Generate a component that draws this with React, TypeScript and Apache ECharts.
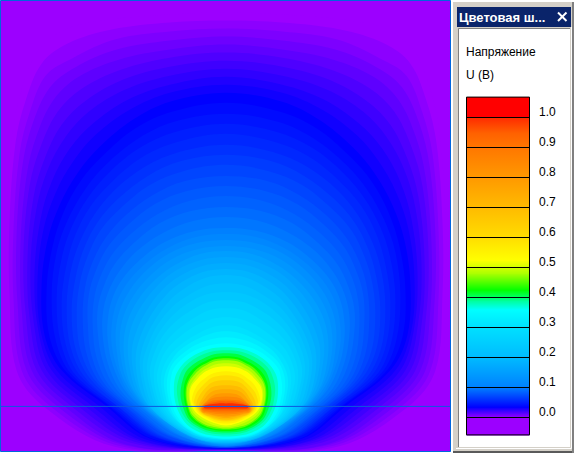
import React, { useEffect, useRef } from "react";
import * as echarts from "echarts";

const WINDOW_TITLE = "Цветовая ш...";
const LEGEND_TITLE = "Напряжение";
const LEGEND_UNIT = "U (В)";

// colour scale: value -> colour
const stopValues = [-0.058, 0, 0.035, 0.1, 0.2, 0.3, 0.36, 0.39, 0.425, 0.48, 0.525, 0.6, 0.7, 0.8, 0.9, 0.95, 1.0, 1.0001, 1.068];
const stopColors = ["#9c00ff", "#9c00ff", "#0000ff", "#0080ff", "#00bbff", "#00e0ff", "#00ffff", "#00ff99", "#00ff00", "#aaff00", "#ffff00", "#ffdd00", "#ffbb00", "#ff9900", "#ff7700", "#ff6000", "#ff2a00", "#ff0000", "#ff0000"];

// iso-voltage levels of the field
const levels = [0, 0.0035, 0.007, 0.0105, 0.014, 0.0175, 0.021, 0.0245, 0.028, 0.0315, 0.035, 0.04, 0.045, 0.05, 0.055, 0.06, 0.065, 0.07, 0.075, 0.08, 0.085, 0.09, 0.095, 0.1, 0.1125, 0.125, 0.1375, 0.15, 0.1625, 0.175, 0.1875, 0.2, 0.2167, 0.2333, 0.25, 0.2667, 0.2833, 0.3, 0.32, 0.34, 0.36, 0.375, 0.39, 0.41, 0.425, 0.455, 0.48, 0.5, 0.525, 0.56, 0.6, 0.65, 0.7, 0.75, 0.8, 0.85, 0.9, 0.95, 1.0];

// left half of each iso-line, from top centre round to bottom centre (mirrored about x = 226)
const isoLines: number[][][] = [
  [[226,13],[170,15],[110,20],[65,30],[38,52],[22,90],[13,133],[7,215],[7,290],[12,370],[37,406],[110,447],[226,450]],
  [[226,21],[170,23],[112,30],[68,44],[42,64],[26,101],[16,143],[10,222],[10,294],[17,370],[44,406],[114,446],[226,450]],
  [[226,29],[170,32],[115,40],[72,59],[46,76],[30,113],[20,154],[14,229],[14,299],[22,370],[51,406],[118,445],[226,450]],
  [[226,37],[170,41],[117,50],[75,68],[50,88],[33,124],[23,165],[17,236],[18,303],[27,370],[58,406],[122,444],[226,449.5]],
  [[226,45],[170,50],[119,60],[79,77],[54,100],[37,136],[27,176],[21,243],[22,308],[32,370],[65,406],[126,444],[226,449]],
  [[226,53],[170,58],[121,70],[82,89],[58,112],[41,147],[30,186],[24,250],[26,312],[37,370],[72,406],[130,442],[226,449]],
  [[226,61],[170,67],[123,80],[86,101],[62,125],[45,159],[34,197],[28,257],[30,317],[42,370],[79,406],[134,441],[226,449]],
  [[226,69],[170,76],[125,90],[89,112],[66,137],[48,170],[37,208],[31,264],[34,321],[47,370],[86,406],[138,440],[226,449]],
  [[226,77],[170,85],[128,100],[93,124],[70,149],[52,182],[41,219],[35,271],[38,326],[52,370],[93,406],[142,440],[226,448.5]],
  [[226,85],[170,93],[130,110],[96,135],[74,161],[56,193],[44,229],[38,278],[41,330],[57,370],[100,406],[146,439],[226,448]],
  [[226,93],[170,102],[133,120],[100,147],[78,173],[60,205],[48,240],[42,285],[45,335],[62,370],[107,406],[150,438],[226,448]],
  [[226,103],[172,112],[135,129],[103,156],[81,181],[64,212],[53,246],[47,289],[50,337],[67,372],[110,406],[152,438],[226,448]],
  [[226,114],[174,122],[138,139],[106,165],[85,190],[68,220],[57,252],[52,294],[56,340],[71,373],[113,407],[155,437],[226,447.5]],
  [[226,124],[176,132],[140,148],[109,173],[88,198],[72,227],[62,258],[57,298],[61,342],[76,375],[116,407],[157,437],[226,447.5]],
  [[226,134],[178,142],[143,157],[112,182],[91,206],[76,234],[67,264],[62,302],[66,344],[81,376],[119,407],[159,437],[226,447]],
  [[226,145],[180,152],[145,167],[115,190],[95,214],[80,242],[71,271],[67,306],[71,347],[86,378],[121,408],[162,437],[226,447]],
  [[226,155],[182,161],[148,176],[118,199],[98,222],[84,249],[76,277],[72,310],[76,349],[91,379],[124,408],[164,437],[226,447]],
  [[226,165],[184,171],[150,185],[121,208],[101,230],[88,256],[80,283],[77,314],[81,351],[96,381],[127,408],[166,437],[226,447]],
  [[226,176],[185,181],[153,195],[125,216],[105,239],[92,264],[85,289],[83,319],[87,354],[100,382],[130,409],[169,436],[226,447]],
  [[226,186],[187,191],[155,204],[128,225],[108,247],[96,271],[89,295],[88,323],[92,356],[105,384],[133,409],[171,436],[226,446.5]],
  [[226,196],[189,201],[158,214],[131,234],[112,255],[100,278],[94,301],[93,327],[97,358],[110,386],[136,410],[173,436],[226,446]],
  [[226,207],[191,211],[160,223],[134,243],[115,264],[104,286],[98,308],[98,332],[103,361],[115,387],[139,410],[175,436],[226,446]],
  [[226,217],[193,221],[163,233],[137,251],[119,272],[108,293],[103,314],[103,336],[108,363],[120,389],[142,410],[178,435],[226,446]],
  [[226,228],[195,231],[165,242],[140,260],[122,280],[112,300],[108,320],[108,340],[113,365],[125,390],[145,410],[180,435],[226,446]],
  [[226,234],[196,237],[168,248],[144,265],[126,285],[116,305],[112,325],[112,345],[118,370],[130,394],[150,413],[183,436],[226,445.5]],
  [[226,240],[197,243],[170,253],[147,270],[130,290],[120,310],[116,330],[117,351],[122,375],[135,397],[155,416],[186,436],[226,445]],
  [[226,246],[198,249],[172,259],[151,275],[134,295],[124,315],[120,335],[121,357],[127,380],[140,401],[160,419],[189,436],[226,444.5]],
  [[226,251],[200,254],[175,265],[155,280],[138,300],[128,320],[124,340],[125,362],[131,385],[145,405],[165,421],[192,437],[226,444]],
  [[226,257],[201,260],[177,270],[158,285],[142,305],[132,325],[128,345],[130,368],[136,390],[150,409],[170,424],[195,438],[226,443.5]],
  [[226,263],[202,266],[180,276],[162,290],[147,310],[137,330],[132,350],[134,374],[141,395],[155,412],[175,427],[199,439],[226,443]],
  [[226,269],[203,272],[182,282],[166,295],[151,315],[141,335],[136,355],[138,380],[145,400],[160,416],[180,430],[202,440],[226,442.5]],
  [[226,275],[205,278],[185,288],[170,300],[155,320],[145,340],[140,360],[143,385],[150,405],[165,420],[185,433],[205,440],[226,442]],
  [[226,283],[206,286],[187,296],[172,307],[157,326],[148,345],[143,363],[146,387],[153,406],[167,420],[187,433],[206,440],[226,441.5]],
  [[226,292],[207,294],[188,303],[173,315],[160,331],[151,349],[147,367],[150,388],[156,406],[169,421],[188,433],[206,440],[226,441]],
  [[226,300],[208,302],[190,311],[175,322],[162,337],[154,354],[150,370],[153,390],[159,407],[171,421],[190,433],[207,439],[226,440.5]],
  [[226,308],[209,310],[192,319],[177,330],[165,343],[157,359],[154,373],[156,392],[162,408],[173,421],[192,433],[208,439],[226,440]],
  [[226,317],[211,319],[193,327],[178,338],[167,349],[160,363],[157,377],[160,393],[165,409],[176,422],[193,434],[209,438],[226,439.5]],
  [[226,325],[212,327],[195,335],[180,345],[170,355],[163,368],[161,380],[163,395],[168,410],[178,422],[195,434],[210,438],[226,439]],
  [[226,331],[212,333],[195,340],[181,349],[173,358],[166,371],[164,383],[166,397],[170,411],[180,423],[197,434],[211,438],[226,439]],
  [[226,337],[211,339],[195,345],[182,354],[173,363],[168,375],[167,387],[169,400],[173,413],[183,425],[198,434],[212,437],[226,438.5]],
  [[226,343],[210,345],[195,350],[183,358],[174,368],[171,378],[170,390],[172,402],[176,414],[186,426],[200,434],[213,437],[226,438]],
  [[226,347],[212,348],[198,353],[187,360],[179,369],[175,378],[174,389],[175,400],[179,412],[187,424],[200,432],[212,435],[226,436]],
  [[226,350],[213,351],[201,355],[191,361],[183,369],[179,378],[177,388],[178,399],[181,410],[188,421],[200,429],[212,433],[226,434]],
  [[226,353],[214,354],[204,358],[195,363],[187,370],[183,379],[181,388],[181,398],[184,409],[189,419],[200,427],[212,431],[226,432]],
  [[226,356],[215,357],[207,360],[198,365],[191,371],[186,379],[184,387],[184,397],[186,407],[190,417],[200,425],[212,429],[226,430.5]],
  [[226,358],[215,359],[208,362],[199,367],[193,373],[188,381],[186,388],[186,398],[188,407],[192,416],[202,424],[213,428],[226,429]],
  [[226,360],[215,361],[208,364],[200,369],[194,375],[189,382],[187,389],[187,398],[189,407],[193,415],[203,423],[214,426.5],[226,428]],
  [[226,363],[216,364],[209,367],[202,371],[196,377],[191,384],[189,390],[189,398],[191,407],[195,414],[205,421],[215,425],[226,426.5]],
  [[226,366],[216,367],[210,369],[203,373],[197,379],[192,385],[190,391],[190,398],[192,406],[197,413],[206,419],[216,423],[226,425]],
  [[226,371],[217,372],[211,374],[205,378],[199,383],[195,389],[193,394],[192,400],[195,407],[199,413],[208,418],[217,422],[226,423]],
  [[226,375],[217,376],[211,378],[206,382],[201,387],[197,392],[195,397],[194,402],[197,408],[201,413],[209,417],[217,420],[226,421]],
  [[226,380],[217.5,380.5],[211.5,382.5],[206.5,386.5],[202.5,391],[199,396],[197,400.5],[196.5,405],[199,409.5],[203,413.5],[210,416.5],[217.5,419],[226,420]],
  [[226,385],[218,385.5],[212,387],[207,391],[204,395],[201,400],[199,404],[199,408],[201,411],[205,414],[211,416],[218,418],[226,419]],
  [[226,389],[218,389.5],[212.5,391],[208,394.5],[205,398],[202,402],[200,405.5],[200,408.5],[202,411.5],[206.5,413.5],[212,415],[218.5,416.5],[226,417.5]],
  [[226,393],[218,393.5],[213,395],[209,398],[206,401],[203,404],[201,407],[201,409],[203,412],[208,413],[213,414.5],[219,415.5],[226,416]],
  [[226,396],[218,396.5],[213,397.5],[209,399.5],[206,402],[203,404.5],[201.5,407],[201.5,408.7],[203.5,411],[208.5,412],[213.5,413],[219.5,413.7],[226,414]],
  [[226,399],[218,399.5],[213,400],[209,401.5],[206,403],[203,405],[202,407],[202,408.5],[204,410],[209,411],[214,411.5],[220,412],[226,412]],
  [[226,401],[218,401],[213,402],[209,403],[207,404],[204,405],[203,406.5],[203,408],[205,409],[210,409.5],[214,410],[220,410],[226,410]],
  [[226,403],[218,403],[213,403.5],[209,404],[207,404.5],[205,405],[204,406],[204,407],[206,408],[210,408],[214,408],[220,408],[226,408]],
];

const probeY = 406;
const probeX = [1, 450];

function colorOf(v: number): string {
  for (let i = 1; i < stopValues.length; i++) {
    if (v <= stopValues[i]) {
      const t = (v - stopValues[i - 1]) / (stopValues[i] - stopValues[i - 1]);
      return echarts.color.lerp(t, [stopColors[i - 1], stopColors[i]]) as string;
    }
  }
  return stopColors[stopColors.length - 1];
}

export default function App() {
  const ref = useRef<HTMLDivElement>(null);
  useEffect(() => {
    const chart = echarts.init(ref.current!, null, { renderer: "svg" });
    const textFont = { fontFamily: "Liberation Sans", fontSize: 12, fill: "#000" };
    const line = (x1: number, y1: number, x2: number, y2: number, stroke: string, lineWidth = 1) => ({ type: "line", shape: { x1, y1, x2, y2 }, style: { stroke, lineWidth } });
    chart.setOption({
      animation: false,
      backgroundColor: "#ffffff",
      graphic: [
        { type: "rect", shape: { x: 453, y: 2, width: 121, height: 451 }, style: { fill: "#d4d0c8" } },
        { type: "rect", shape: { x: 459, y: 29, width: 111, height: 418 }, style: { fill: "#ffffff" } },
        line(458.5, 28.5, 570, 28.5, "#808080"),
        line(458.5, 28.5, 458.5, 447, "#808080"),
        line(456, 448.5, 571.5, 448.5, "#ffffff"),
        line(571.5, 27, 571.5, 448.5, "#ffffff"),
        line(453, 452, 574, 452, "#5a5a5a", 2),
        line(573, 2, 573, 453, "#808080", 2),
        { type: "rect", shape: { x: 457, y: 7, width: 114, height: 20 }, style: { fill: "#0a246a" } },
        { type: "text", x: 459, y: 17.5, style: { text: WINDOW_TITLE, fontFamily: "Liberation Sans", fontWeight: "bold", fontSize: 13, fill: "#fff", verticalAlign: "middle" } },
        line(558, 12.5, 566.5, 21, "#fff", 2),
        line(566.5, 12.5, 558, 21, "#fff", 2),
        { type: "text", x: 466, y: 52, style: { ...textFont, text: LEGEND_TITLE, verticalAlign: "middle" } },
        { type: "text", x: 466, y: 75, style: { ...textFont, text: LEGEND_UNIT, verticalAlign: "middle" } },
      ],
      grid: [
        { left: 0.5, top: 0.5, width: 450, height: 451, show: true, backgroundColor: "#9c00ff", borderColor: "#0066dd", borderWidth: 1 },
        { left: 466.5, top: 117.5, width: 63, height: 300 },
      ],
      xAxis: [
        { gridIndex: 0, type: "value", min: 1, max: 450, show: false },
        { gridIndex: 1, type: "value", min: 0, max: 1, show: false },
      ],
      yAxis: [
        { gridIndex: 0, type: "value", min: 1, max: 451, inverse: true, show: false },
        {
          gridIndex: 1, type: "value", min: 0, max: 1, interval: 0.1, position: "right", z: 5,
          axisLine: { show: false },
          axisTick: { show: true, length: 6, lineStyle: { color: "#000" } },
          splitLine: { show: true, lineStyle: { color: "#000", width: 1 } },
          axisLabel: { margin: 9.5, color: "#000", fontFamily: "Liberation Sans", fontSize: 12, verticalAlign: "bottom", formatter: (v: number) => v.toFixed(1) },
        },
      ],
      series: [
        {
          type: "custom", xAxisIndex: 0, yAxisIndex: 0, clip: true,
          data: levels.map((v, i) => [v, i]),
          renderItem: (_: any, api: any) => {
            const v = api.value(0);
            const left = isoLines[api.value(1)];
            const right = left.slice(1, -1).reverse().map(([x, y]) => [452 - x, y]);
            const points = [...left, ...right].map((p) => api.coord(p));
            return { type: "polygon", shape: { points, smooth: 0.35 }, style: { fill: colorOf(v), stroke: "none" } };
          },
        },
        {
          type: "line", xAxisIndex: 0, yAxisIndex: 0, symbol: "none",
          data: probeX.map((x) => [x, probeY]),
          lineStyle: { color: "#0a5ae0", width: 1 }, z: 4,
        },
        {
          type: "custom", xAxisIndex: 1, yAxisIndex: 1, clip: false,
          data: stopValues.slice(1).map((v, i) => [stopValues[i], v, i]),
          renderItem: (_: any, api: any) => {
            const i = api.value(2);
            const a = api.coord([0, api.value(0)]);
            const b = api.coord([1, api.value(1)]);
            return {
              type: "rect",
              shape: { x: a[0], y: b[1], width: b[0] - a[0], height: a[1] - b[1] + 0.5 },
              style: { fill: new echarts.graphic.LinearGradient(0, 1, 0, 0, [{ offset: 0, color: stopColors[i] }, { offset: 1, color: stopColors[i + 1] }]) },
            };
          },
        },
        {
          type: "custom", xAxisIndex: 1, yAxisIndex: 1, clip: false, z: 4,
          data: [[stopValues[0], stopValues[stopValues.length - 1]]],
          renderItem: (_: any, api: any) => {
            const a = api.coord([0, api.value(0)]);
            const b = api.coord([1, api.value(1)]);
            return { type: "rect", shape: { x: a[0], y: b[1], width: b[0] - a[0], height: a[1] - b[1] }, style: { fill: "none", stroke: "#000", lineWidth: 1 } };
          },
        },
      ],
    });
    return () => chart.dispose();
  }, []);
  return <div ref={ref} style={{ position: "absolute", left: 0, top: 0, width: 574, height: 453 }} />;
}
